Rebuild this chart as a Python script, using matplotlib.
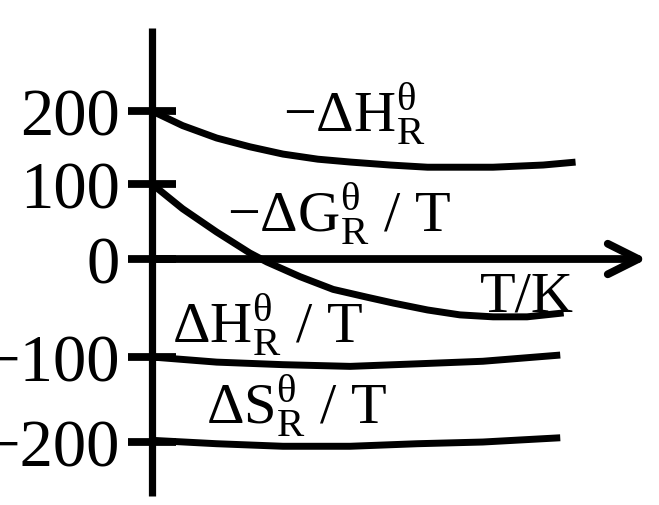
import numpy as np
import matplotlib
matplotlib.use("Agg")
import matplotlib.pyplot as plt

plt.rcParams['font.family'] = ['Liberation Serif', 'DejaVu Serif']
plt.rcParams['mathtext.fontset'] = 'custom'
plt.rcParams['mathtext.rm'] = 'Liberation Serif'
plt.rcParams['mathtext.it'] = 'Liberation Serif:italic'

# data (T in arbitrary units, values in the y-axis units)
T_dh = [0, 36, 76, 115, 154, 195, 234, 280, 324, 401, 460, 498]
neg_dH = [200, 180, 163, 151, 141, 134, 130, 126, 123, 123, 126, 130]

T_dg = [0, 36, 76, 115, 135, 174, 213, 253, 284, 324, 362, 401, 441, 484]
neg_dG_T = [100, 67, 36, 8, -3, -18, -31, -39, -45, -52, -57, -59, -59, -55]

T_ht = [0, 76, 154, 233, 312, 389, 480]
dH_T = [-100, -106, -109, -111, -108, -105, -98]

T_st = [0, 76, 154, 233, 312, 389, 480]
dS_T = [-198, -202, -205, -205, -202, -200, -195]

ytick_vals = [-200, -100, 0, 100, 200]
ytick_labels = ['\u2212200', '\u2212100', '0', '100', '200']

# the sketch has uneven tick spacing -> piecewise linear scale
knot_pos = [-443, -358, -260, -185, -112]


def _pw(v, xs, ys):
    v = np.asarray(v, dtype=float)
    out = np.interp(v, xs, ys)
    s0 = (ys[1] - ys[0]) / (xs[1] - xs[0])
    s1 = (ys[-1] - ys[-2]) / (xs[-1] - xs[-2])
    out = np.where(v < xs[0], ys[0] + (v - xs[0]) * s0, out)
    out = np.where(v > xs[-1], ys[-1] + (v - xs[-1]) * s1, out)
    return out


def fwd(v):
    return _pw(v, ytick_vals, knot_pos)


def inv(p):
    return _pw(p, knot_pos, ytick_vals)


fig = plt.figure(figsize=(6.59, 5.06), dpi=100)
ax = fig.add_axes([152 / 659, 9 / 506, 495 / 659, 468 / 506])
ax.set_yscale('function', functions=(fwd, inv))
ax.set_xlim(0, 582)
ax.set_ylim(-263.5, 313.7)

for s in ['top', 'right', 'bottom']:
    ax.spines[s].set_visible(False)
ax.spines['left'].set_linewidth(5.2)
ax.spines['left'].set_capstyle('butt')

ax.set_xticks([])
ax.set_yticks(ytick_vals)
ax.set_yticklabels(ytick_labels)
ax.yaxis.set_minor_locator(matplotlib.ticker.NullLocator())
ax.tick_params(axis='y', direction='inout', length=34, width=5.6,
               labelsize=48, pad=6)

# x axis with open arrow head
ax.annotate('', xy=(582, 0), xytext=(0, 0),
            arrowprops=dict(arrowstyle='->,head_length=1.1,head_width=0.55',
                            lw=5.6, color='black', mutation_scale=20,
                            shrinkA=0, shrinkB=0, capstyle='round'),
            annotation_clip=False)

lw = 5
for xs, ys in [(T_dh, neg_dH), (T_dg, neg_dG_T), (T_ht, dH_T), (T_st, dS_T)]:
    ax.plot(xs, ys, color='black', lw=lw, solid_capstyle='butt',
            solid_joinstyle='round')

fs = 42
ax.text(154, 172, r'$-\mathrm{\Delta H}_\mathrm{R}^\mathrm{\theta}$', fontsize=fs, va='baseline')
ax.text(88, 37, r'$-\mathrm{\Delta G}_\mathrm{R}^\mathrm{\theta}$ / T', fontsize=fs, va='baseline')
ax.text(386, -53, 'T/K', fontsize=fs, va='baseline')
ax.text(23, -85, r'$\mathrm{\Delta H}_\mathrm{R}^\mathrm{\theta}$ / T', fontsize=fs, va='baseline')
ax.text(63, -178, r'$\mathrm{\Delta S}_\mathrm{R}^\mathrm{\theta}$ / T', fontsize=fs, va='baseline')

fig.savefig('out.png', dpi=100)
